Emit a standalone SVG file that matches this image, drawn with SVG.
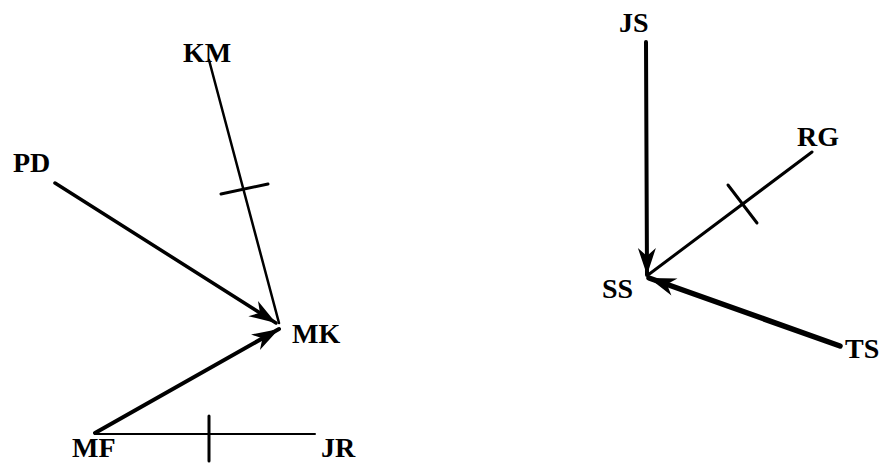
<svg xmlns="http://www.w3.org/2000/svg" width="883" height="463" viewBox="0 0 883 463">
<style>
.lbl{font-family:"Liberation Serif","Times New Roman",serif;font-weight:bold;font-size:28px;fill:#000}
.ln{stroke:#000;fill:none;stroke-linecap:round}
</style>
<defs>
<marker id="ah" markerUnits="userSpaceOnUse" viewBox="-28 -11 30 22" refX="0" refY="0" markerWidth="30" markerHeight="22" orient="auto">
<path d="M0,0 L-27,-9 L-19,0 L-27,9 Z" fill="#000"/>
</marker>
</defs>
<rect width="883" height="463" fill="#fff"/>
<g id="connectors">
<line class="ln" x1="209" y1="60" x2="279" y2="323" stroke-width="2.5"/>
<line class="ln" x1="221" y1="194" x2="268" y2="184" stroke-width="3"/>
<line class="ln" x1="55" y1="183" x2="276" y2="323" stroke-width="3.5" marker-end="url(#ah)"/>
<line class="ln" x1="95" y1="433" x2="279" y2="329" stroke-width="4" marker-end="url(#ah)"/>
<line class="ln" x1="95" y1="434" x2="315" y2="434" stroke-width="2"/>
<line class="ln" x1="209" y1="416" x2="209" y2="461" stroke-width="3"/>
<line class="ln" x1="646" y1="42" x2="647" y2="275" stroke-width="4" marker-end="url(#ah)"/>
<line class="ln" x1="812" y1="152" x2="648" y2="275" stroke-width="3"/>
<line class="ln" x1="728" y1="185" x2="757" y2="223" stroke-width="3"/>
<line class="ln" x1="840" y1="346" x2="649" y2="278" stroke-width="5.5" marker-end="url(#ah)"/>
</g>
<g id="KM"><text class="lbl" x="183" y="62">KM</text></g>
<g id="PD"><text class="lbl" x="13" y="172">PD</text></g>
<g id="MK"><text class="lbl" x="292" y="343">MK</text></g>
<g id="MF"><text class="lbl" x="72" y="457">MF</text></g>
<g id="JR"><text class="lbl" x="321" y="457">JR</text></g>
<g id="JS"><text class="lbl" x="619" y="32">JS</text></g>
<g id="RG"><text class="lbl" x="797" y="146">RG</text></g>
<g id="SS"><text class="lbl" x="602" y="298">SS</text></g>
<g id="TS"><text class="lbl" x="845" y="358">TS</text></g>
</svg>
